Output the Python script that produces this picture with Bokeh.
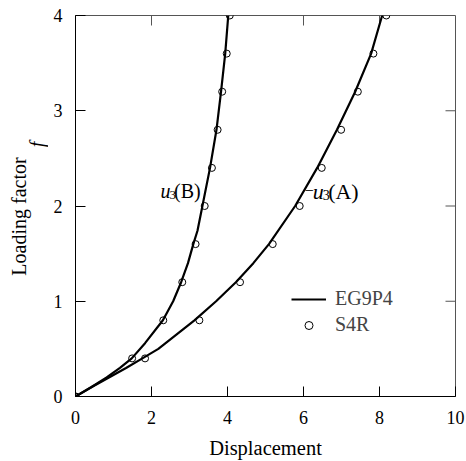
import math
from bokeh.plotting import figure
from bokeh.layouts import row
from bokeh.models import (Range1d, FixedTicker, Legend, LegendItem)
from bokeh.core.properties import value
from bokeh.embed import file_html
from bokeh.resources import INLINE

# ---- data ----
load_levels = [0.0, 0.4, 0.8, 1.2, 1.6, 2.0, 2.4, 2.8, 3.2, 3.6, 4.0]
s4r_B = [0.0, 1.49, 2.31, 2.81, 3.16, 3.40, 3.59, 3.74, 3.86, 3.98, 4.06]
s4r_A = [0.0, 1.83, 3.26, 4.33, 5.19, 5.90, 6.48, 6.99, 7.43, 7.84, 8.18]

eg_B_f = [0.0, 0.1, 0.2, 0.3, 0.4, 0.56, 0.8, 1.0, 1.2, 1.4, 1.6, 1.74, 2.0, 2.4, 2.8, 3.2, 3.6, 4.0]
eg_B_x = [0.0, 0.42, 0.82, 1.17, 1.48, 1.83, 2.30, 2.57, 2.78, 2.96, 3.10, 3.21, 3.34, 3.54, 3.71, 3.83, 3.94, 4.02]
eg_A_f = [0.0, 0.1, 0.2, 0.3, 0.4, 0.5, 0.8, 1.0, 1.2, 1.4, 1.6, 2.0, 2.4, 2.8, 3.2, 3.6, 4.0]
eg_A_x = [0.0, 0.43, 0.88, 1.33, 1.76, 2.18, 3.13, 3.70, 4.22, 4.68, 5.09, 5.78, 6.36, 6.88, 7.36, 7.78, 8.07]

x_ticks = [0, 2, 4, 6, 8, 10]
y_ticks = [0, 1, 2, 3, 4]
x_inner = [2, 4, 6, 8]
y_inner = [1, 2, 3]

FONT = "Liberation Serif"
LABEL_W = 48
W, H = 466, 461
FRAME_W, FRAME_H = 380, 381

# ---- narrow strip holding the rotated y-axis title (its frame is aligned with the main frame) ----
lab = figure(width=LABEL_W, height=H, output_backend="svg", toolbar_location=None,
             x_range=Range1d(0, LABEL_W), y_range=Range1d(0, FRAME_H),
             x_axis_location=None, y_axis_location=None,
             min_border=0, outline_line_color=None)
lab.grid.visible = False
lab.text([18], [180], text=["Loading factor"], angle=math.pi / 2, text_font=value(FONT),
         text_font_size="20px", text_align="center", text_baseline="middle", text_color="black")
lab.text([36], [252], text=["f"], angle=math.pi / 2, text_font=value(FONT),
         text_font_size="20px", text_font_style="italic", text_align="center",
         text_baseline="middle", text_color="black")

# ---- main plot ----
p = figure(width=W - LABEL_W, height=H, output_backend="svg", toolbar_location=None,
           x_range=Range1d(0, 10), y_range=Range1d(0, 4),
           min_border_left=75 - LABEL_W, min_border_right=11, min_border_top=15, min_border_bottom=65)
p.frame_width = FRAME_W
p.frame_height = FRAME_H
p.grid.visible = False
p.outline_line_color = "#555555"
p.outline_line_width = 1
p.background_fill_color = "white"
p.border_fill_color = "white"

for ax in (p.xaxis[0], p.yaxis[0]):
    ax.major_tick_in = 10
    ax.major_tick_out = 0
    ax.minor_tick_line_color = None
    ax.axis_line_color = "black"
    ax.major_tick_line_color = "black"
    ax.major_label_text_font = FONT
    ax.major_label_text_font_size = "18px"
    ax.major_label_text_color = "black"
    ax.axis_label_text_font = FONT
    ax.axis_label_text_font_style = "normal"
    ax.axis_label_text_font_size = "20.5px"
    ax.axis_label_text_color = "black"

p.xaxis.ticker = FixedTicker(ticks=x_ticks)
p.yaxis.ticker = FixedTicker(ticks=y_ticks)
p.xaxis.major_label_standoff = 14
p.yaxis.major_label_standoff = 13
p.xaxis.axis_label = "Displacement"
p.xaxis.axis_label_standoff = 10

# mirrored inward ticks on top and right edges (half of each dash is clipped by the frame)
p.scatter(x_inner, [4] * len(x_inner), marker="dash", angle=math.pi / 2, size=20,
          line_color="#555555", line_width=1)
p.scatter([10] * len(y_inner), y_inner, marker="dash", size=20,
          line_color="#555555", line_width=1)

lB = p.line(eg_B_x, eg_B_f, line_color="black", line_width=2.2)
lA = p.line(eg_A_x, eg_A_f, line_color="black", line_width=2.2)
cB = p.scatter(s4r_B, load_levels, marker="circle", size=7, fill_color=None, line_color="black", line_width=1)
cA = p.scatter(s4r_A, load_levels, marker="circle", size=7, fill_color=None, line_color="black", line_width=1)

legend = Legend(items=[LegendItem(label="EG9P4", renderers=[lA]),
                       LegendItem(label="S4R", renderers=[cA])],
                location=(216, 60), border_line_color=None, background_fill_alpha=0,
                label_text_font=FONT, label_text_font_size="20px", glyph_width=35,
                glyph_height=20, label_height=22, spacing=3, padding=0, margin=0,
                label_standoff=9)
p.add_layout(legend)

# curve labels: pieces (text, x offset px, y offset px, size, style)
def curve_label(x, y, pieces):
    for txt, dx, dy, size, style in pieces:
        p.text([x], [y], text=[txt], x_offset=dx, y_offset=dy, text_font=value(FONT),
               text_font_size=size, text_font_style=style, text_color="black",
               text_baseline="alphabetic", text_align="left")

curve_label(2.24, 2.16, [("u", 0, 0, "20px", "italic"),
                         ("3", 9, 4, "13px", "normal"),
                         ("(B)", 13.5, 0, "20px", "normal")])
curve_label(6.03, 2.155, [("\u2212", 0, -1, "16px", "normal"),
                          ("u", 8, 0, "22px", "italic"),
                          ("3", 18, 4, "14px", "normal"),
                          ("(A)", 23.5, 0, "22px", "normal")])

layout = row(lab, p, spacing=0)
open("out.html", "w").write(file_html(layout, INLINE))
